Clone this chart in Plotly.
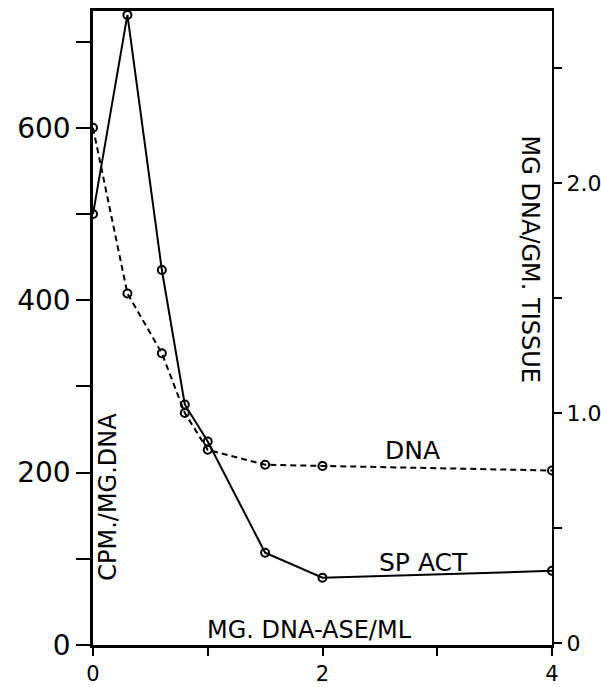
import plotly.graph_objects as go

# Data
dnase = [0, 0.3, 0.6, 0.8, 1.0, 1.5, 2.0, 4.0]           # MG DNA-ASE/ML
sp_act = [500, 731, 435, 279, 236, 107, 78, 86]          # CPM/MG DNA (left axis)
dna = [2.24, 1.52, 1.26, 1.00, 0.84, 0.775, 0.77, 0.75]  # MG DNA/GM TISSUE (right axis)

left_ticks = [0, 100, 200, 300, 400, 500, 600, 700]
left_text = ["0", "", "200", "", "400", "", "600", ""]
right_ticks = [0, 0.5, 1.0, 1.5, 2.0, 2.5]
right_text = ["0", "", "1.0", "", "2.0", ""]
x_ticks = [0, 1, 2, 3, 4]
x_text = ["0", "", "2", "", "4"]

FONT = "DejaVu Sans"
marker = dict(symbol="circle-open", size=8, color="black", line=dict(width=2, color="black"))

fig = go.Figure()
fig.add_trace(go.Scatter(x=dnase, y=sp_act, mode="lines+markers",
                         line=dict(color="black", width=2), marker=marker,
                         yaxis="y", showlegend=False))
fig.add_trace(go.Scatter(x=dnase, y=dna, mode="lines+markers",
                         line=dict(color="black", width=2, dash="6px,4px"), marker=marker,
                         yaxis="y2", showlegend=False))

fig.update_layout(
    width=601, height=687,
    margin=dict(l=93, r=49, t=11, b=42, autoexpand=False),
    paper_bgcolor="white", plot_bgcolor="white",
    font=dict(family=FONT, color="black"),
    xaxis=dict(range=[0, 4], tickvals=x_ticks, ticktext=x_text, automargin=False,
               ticks="outside", ticklen=8, tickwidth=2, tickcolor="black",
               showline=True, linecolor="black", linewidth=2.5, mirror=True,
               showgrid=False, zeroline=False,
               tickfont=dict(family=FONT, size=21, color="black")),
    yaxis=dict(range=[0, 735.5], tickvals=left_ticks, ticktext=left_text, automargin=False,
               ticks="outside", ticklen=14, tickwidth=2, tickcolor="black",
               showline=True, linecolor="black", linewidth=2.5,
               showgrid=False, zeroline=False,
               tickfont=dict(family=FONT, size=28, color="black")),
    yaxis2=dict(range=[-0.0087, 2.748], tickvals=right_ticks, ticktext=right_text,
                overlaying="y", side="right", automargin=False,
                ticks="outside", ticklen=8, tickwidth=2, tickcolor="black",
                showline=True, linecolor="black", linewidth=2,
                showgrid=False, zeroline=False,
                tickfont=dict(family=FONT, size=22, color="black")),
)

ann_font = dict(family=FONT, size=24, color="black")
fig.add_annotation(x=2.78, y=226, xref="x", yref="y", text="DNA", showarrow=False,
                   font=dict(family=FONT, size=25, color="black"))
fig.add_annotation(x=2.876, y=96, xref="x", yref="y", text="SP ACT", showarrow=False,
                   font=dict(family=FONT, size=25, color="black"))
fig.add_annotation(x=1.89, y=17.4, xref="x", yref="y", text="MG. DNA-ASE/ML", showarrow=False,
                   font=ann_font)
fig.add_annotation(x=0.131, y=172, xref="x", yref="y", text="CPM./MG.DNA", showarrow=False,
                   textangle=-90, font=ann_font)
fig.add_annotation(x=3.81, y=448, xref="x", yref="y", text="MG DNA/GM. TISSUE", showarrow=False,
                   textangle=90, font=ann_font)

fig.write_html("out.html")
